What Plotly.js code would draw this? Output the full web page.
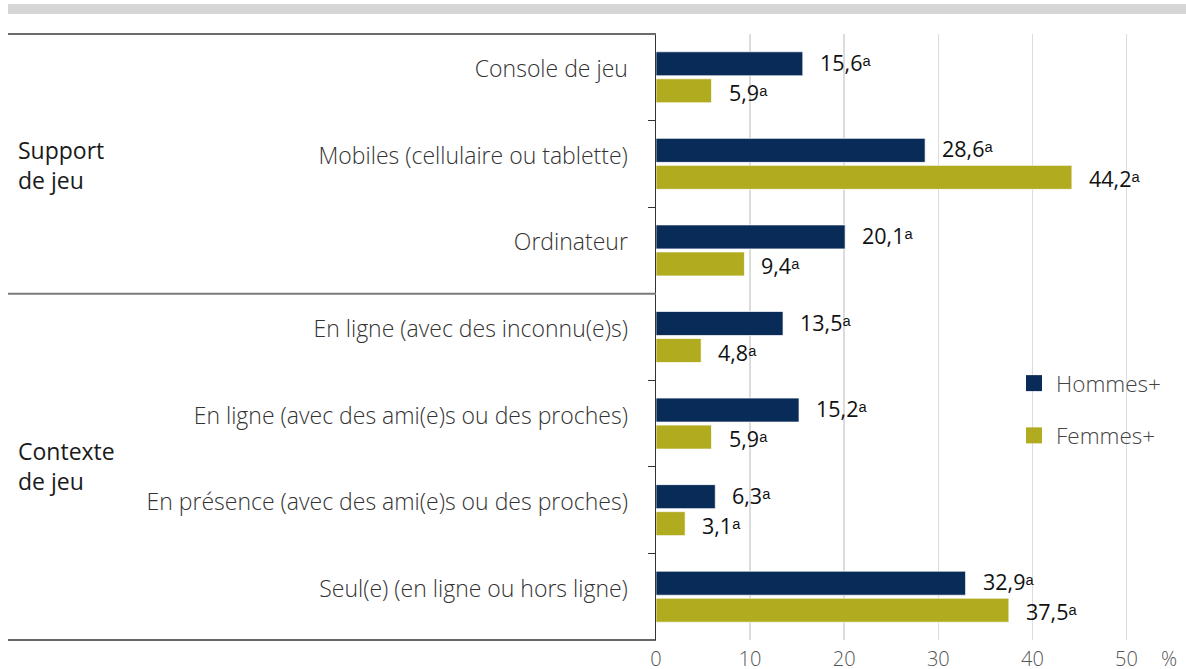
<!DOCTYPE html>
<html>
<head>
<meta charset="utf-8">
<script src="https://cdn.plot.ly/plotly-3.0.1.min.js"></script>
<style>
html,body{margin:0;padding:0;background:#fff;}
#chart{width:1186px;height:669px;}
</style>
</head>
<body>
<div id="chart"></div>
<script>
// ---- Data ----
const categories = [
  "Console de jeu",
  "Mobiles (cellulaire ou tablette)",
  "Ordinateur",
  "En ligne (avec des inconnu(e)s)",
  "En ligne (avec des ami(e)s ou des proches)",
  "En présence (avec des ami(e)s ou des proches)",
  "Seul(e) (en ligne ou hors ligne)"
];
const hommes = [15.6, 28.6, 20.1, 13.5, 15.2, 6.3, 32.9];
const femmes = [5.9, 44.2, 9.4, 4.8, 5.9, 3.1, 37.5];
const seriesNames = ["Hommes+", "Femmes+"];
const noteMark = "ᵃ";
const groupLabels = ["Support<br>de jeu", "Contexte<br>de jeu"];
const xTicks = [0, 10, 20, 30, 40, 50];

// ---- Styles ----
const NAVY = "#082b57";
const OLIVE = "#b1ab20";
const FONT = "Open Sans, sans-serif";

// plot area in pixels: left 656, right 1186, top 34, bottom 640
const L = 656, R = 1186, T = 34, B = 640;
const W = R - L, H = B - T;
const px2x = p => (p - L) / W;
const py2y = p => (B - p) / H;

function fmt(v) { return v.toFixed(1).replace(".", ","); }

const colors = [NAVY, OLIVE];
const series = [hommes, femmes];
const traces = [];
series.forEach((arr, si) => {
  traces.push({type: "bar", orientation: "h", name: seriesNames[si], y: categories, x: arr,
    marker: {color: colors[si], line: {color: "rgba(255,255,255,0.7)", width: 1}},
    hoverinfo: "skip", showlegend: false});
});
// legend entries (square keys)
series.forEach((arr, si) => {
  traces.push({type: "scatter", mode: "markers", name: seriesNames[si], x: [null], y: [null],
    legendgroup: "g" + si, showlegend: true,
    marker: {symbol: "square", size: 16, color: colors[si], line: {width: 0}}, hoverinfo: "skip"});
});

const annotations = [];
series.forEach((arr, si) => {
  arr.forEach((v, i) => {
    annotations.push({
      x: v, y: categories[i], xref: "x", yref: "y",
      text: fmt(v) + noteMark,
      showarrow: false, xanchor: "left", yanchor: "middle",
      xshift: 15, yshift: si === 0 ? 15 : -15,
      font: {family: FONT, size: 21.5, color: "#111"}
    });
  });
});
// group labels
const groupCenterY = [165, 466];
groupLabels.forEach((t, gi) => {
  annotations.push({
    x: px2x(16), y: py2y(groupCenterY[gi]), xref: "paper", yref: "paper",
    text: t, showarrow: false, xanchor: "left", yanchor: "middle", align: "left",
    font: {family: FONT, size: 23, color: "#1a1a1a"}
  });
});
// percent unit
annotations.push({
  x: px2x(1169), y: py2y(658), xref: "paper", yref: "paper",
  text: "%", showarrow: false, xanchor: "center", yanchor: "middle",
  font: {family: FONT, size: 20, color: "#555", weight: 300}
});

const shapes = [
  {type: "rect", xref: "paper", yref: "paper", x0: px2x(8), x1: px2x(1186), y0: py2y(14), y1: py2y(4),
   fillcolor: "#d5d6d5", line: {width: 0}, layer: "below"},
  {type: "line", xref: "paper", yref: "paper", x0: px2x(8), x1: 0, y0: 1, y1: 1,
   line: {color: "#6b6b6b", width: 2}},
  {type: "line", xref: "paper", yref: "paper", x0: px2x(8), x1: 0, y0: 4/7, y1: 4/7,
   line: {color: "#7a7a7a", width: 2}},
  {type: "line", xref: "paper", yref: "paper", x0: px2x(8), x1: 0, y0: 0, y1: 0,
   line: {color: "#333", width: 1.5}}
];

const layout = {
  width: 1186, height: 669,
  margin: {l: L, r: 1186 - R, t: T, b: 669 - B, pad: 0},
  paper_bgcolor: "#fff", plot_bgcolor: "#fff",
  font: {family: FONT, size: 20, color: "#333"},
  barmode: "group", bargap: 0.376, bargroupgap: 0.111,
  showlegend: true,
  legend: {x: px2x(1012), y: py2y(362), xanchor: "left", yanchor: "top",
           font: {family: FONT, size: 22.5, color: "#444", weight: 300},
           itemwidth: 34, tracegroupgap: 20, traceorder: "grouped", bgcolor: "rgba(0,0,0,0)"},
  xaxis: {range: [0, (R - L) / 9.41], tickvals: xTicks, ticktext: xTicks.map(String),
          showgrid: true, gridcolor: "#dcdcdc", gridwidth: 1.5, zeroline: false,
          showline: false, ticks: "", ticklabelstandoff: 5,
          tickfont: {family: FONT, size: 20, color: "#555", weight: 300}, fixedrange: true},
  yaxis: {type: "category", autorange: "reversed", showline: true, linecolor: "#333", linewidth: 1.5,
          ticks: "outside", tickson: "boundaries", ticklen: 7, tickcolor: "#333", tickwidth: 1.2,
          ticklabelstandoff: 22, ticklabelshift: 8, showgrid: false, zeroline: false,
          tickfont: {family: FONT, size: 23, color: "#333", weight: 300}, fixedrange: true},
  annotations: annotations,
  shapes: shapes
};

Plotly.newPlot("chart", traces, layout, {displayModeBar: false, staticPlot: true});
</script>
</body>
</html>
